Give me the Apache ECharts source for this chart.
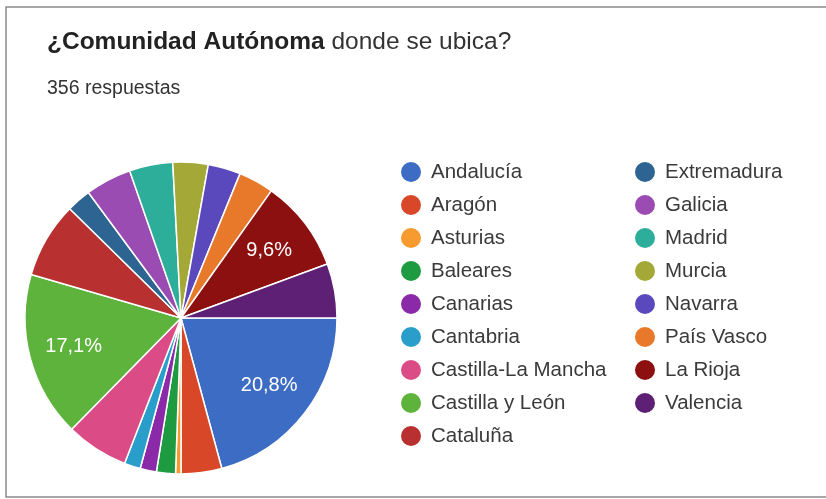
<!DOCTYPE html>
<html>
<head>
<meta charset="utf-8">
<script src="https://cdn.jsdelivr.net/npm/echarts@6/dist/echarts.min.js"></script>
<style>
  html, body { margin: 0; padding: 0; background: #fff; }
  #chart { width: 826px; height: 499px; }
</style>
</head>
<body>
<div id="chart"></div>
<script>
// respuestas por comunidad (total 356)
var comunidades = ["Andalucía", "Aragón", "Asturias", "Baleares", "Canarias", "Cantabria",
  "Castilla-La Mancha", "Castilla y León", "Cataluña", "Extremadura", "Galicia", "Madrid",
  "Murcia", "Navarra", "País Vasco", "La Rioja", "Valencia"];
var respuestas = [74, 15, 2, 7, 6, 6, 23, 61, 28, 9, 17, 16, 13, 12, 13, 34, 20];
var colores = ["#3d6cc4", "#d84828", "#f79a30", "#1e9a40", "#8a2aa8", "#2a9ecb", "#db4c86",
  "#5db33c", "#b8302f", "#2d6491", "#9b4cb2", "#2cae9a", "#a3a836", "#5a48bd", "#e8782a",
  "#8c1010", "#5e2074"];

var total = respuestas.reduce(function (a, b) { return a + b; }, 0);
var datos = comunidades.map(function (n, i) {
  return { name: n, value: respuestas[i], itemStyle: { color: colores[i] } };
});

var chart = echarts.init(document.getElementById("chart"));

var FONT = "Liberation Sans";
var legendText = {
  fontFamily: FONT,
  fontSize: 20.5,
  color: "#3a3a3a",
  padding: [0, 0, 0, 4]
};

var option = {
  backgroundColor: "#fff",
  animation: false,
  title: {
    left: 42,
    top: 25,
    padding: 5,
    text: "{b|¿Comunidad Autónoma} donde se ubica?",
    textStyle: {
      fontFamily: FONT,
      fontSize: 24.5,
      fontWeight: "normal",
      color: "#333",
      rich: {
        b: { fontFamily: FONT, fontSize: 24.5, fontWeight: "bold", color: "#222" }
      }
    },
    subtext: "356 respuestas",
    itemGap: 24,
    subtextStyle: { fontFamily: FONT, fontSize: 19.5, color: "#333" }
  },
  legend: [
    {
      orient: "vertical",
      left: 399,
      top: 160,
      padding: 0,
      itemWidth: 22,
      itemHeight: 22,
      itemGap: 9,
      icon: "circle",
      selectedMode: false,
      data: comunidades.slice(0, 9),
      textStyle: legendText
    },
    {
      orient: "vertical",
      left: 633,
      top: 160,
      padding: 0,
      itemWidth: 22,
      itemHeight: 22,
      itemGap: 9,
      icon: "circle",
      selectedMode: false,
      data: comunidades.slice(9),
      textStyle: legendText
    }
  ],
  graphic: [
    {
      type: "polyline",
      silent: true,
      shape: { points: [[840, 7], [6, 7], [6, 497], [840, 497]] },
      style: { stroke: "#8a8a8a", lineWidth: 1.5, fill: null }
    }
  ],
  series: [
    {
      type: "pie",
      center: [181, 318],
      radius: [0, 156],
      startAngle: 0,
      clockwise: true,
      silent: true,
      itemStyle: { borderColor: "#fff", borderWidth: 1.5 },
      label: { show: false },
      labelLine: { show: false },
      data: datos
    },
    {
      // capa transparente solo para colocar los porcentajes
      type: "pie",
      center: [181, 318],
      radius: [60, 156],
      startAngle: 0,
      clockwise: true,
      silent: true,
      legendHoverLink: false,
      itemStyle: { color: "rgba(0,0,0,0)", borderWidth: 0 },
      labelLine: { show: false },
      label: {
        show: true,
        position: "inside",
        fontFamily: FONT,
        fontSize: 20,
        color: "#fff",
        formatter: function (p) {
          if (p.value / total < 0.09) return "";
          return (p.value / total * 100).toFixed(1).replace(".", ",") + "%";
        }
      },
      data: comunidades.map(function (n, i) { return { name: n + " ", value: respuestas[i] }; })
    }
  ]
};

chart.setOption(option);
</script>
</body>
</html>
